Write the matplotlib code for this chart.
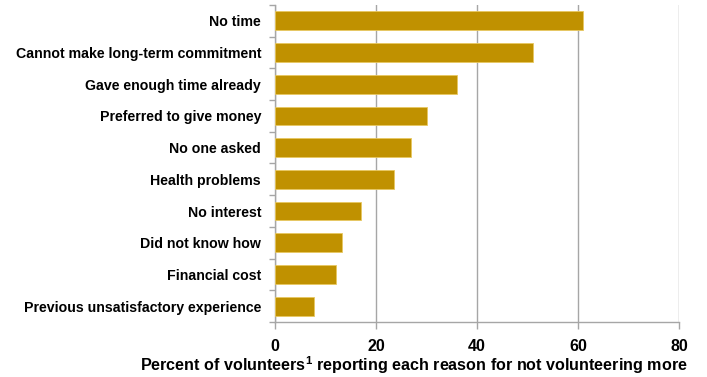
import matplotlib
matplotlib.use("Agg")
import matplotlib.pyplot as plt
from matplotlib import font_manager
import numpy as np

# reasons, top to bottom as in the chart
reasons = [
    "No time",
    "Cannot make long-term commitment",
    "Gave enough time already",
    "Preferred to give money",
    "No one asked",
    "Health problems",
    "No interest",
    "Did not know how",
    "Financial cost",
    "Previous unsatisfactory experience",
]
percents = [61, 51, 36, 30, 27, 23.6, 17, 13.2, 12.1, 7.8]
x_ticks = [0, 20, 40, 60, 80]
x_label = "Percent of volunteers$^\\mathregular{1}$ reporting each reason for not volunteering more"

BAR_COLOR = "#C09100"
GRID_COLOR = "#A6A6A6"


def pick_font(names):
    for name in names:
        try:
            font_manager.findfont(name, fallback_to_default=False)
            return name
        except Exception:
            continue
    return "DejaVu Sans"


label_font = pick_font(["Liberation Sans", "Arial"])

fig = plt.figure(figsize=(7.07, 3.77), dpi=100)
ax = fig.add_axes([275 / 707, 1 - 322 / 377, 404 / 707, 317 / 377])

y = np.arange(len(reasons))
ax.barh(y, percents, height=0.59, color=BAR_COLOR, edgecolor="#E8C860",
        linewidth=0.6, zorder=3)

ax.set_xlim(0, 80)
ax.set_ylim(len(reasons) - 0.5, -0.5)

ax.set_xticks(x_ticks)
ax.set_xticklabels([str(t) for t in x_ticks], fontfamily=label_font,
                   fontweight="bold", fontsize=11.5)
ax.set_yticks(y)
ax.set_yticklabels(reasons, fontfamily=label_font, fontweight="bold", fontsize=10.2)
ax.set_yticks(np.arange(len(reasons) + 1) - 0.5, minor=True)

ax.tick_params(axis="y", which="major", length=0, pad=10)
ax.tick_params(axis="y", which="minor", length=4, color=GRID_COLOR, width=1)
ax.tick_params(axis="x", length=5, color=GRID_COLOR, width=1, pad=7)

ax.grid(axis="x", color=GRID_COLOR, linewidth=1, zorder=0)
for side in ["top", "right"]:
    ax.spines[side].set_visible(False)
for side in ["left", "bottom"]:
    ax.spines[side].set_color(GRID_COLOR)
    ax.spines[side].set_linewidth(1)

ax.set_xlabel(x_label, fontfamily=label_font, fontweight="bold", fontsize=11.6,
              ha="right", va="baseline")
ax.xaxis.set_label_coords((688 - 275) / 404, (322 - 371) / 317)

fig.savefig("out.png", dpi=100, facecolor="white")
